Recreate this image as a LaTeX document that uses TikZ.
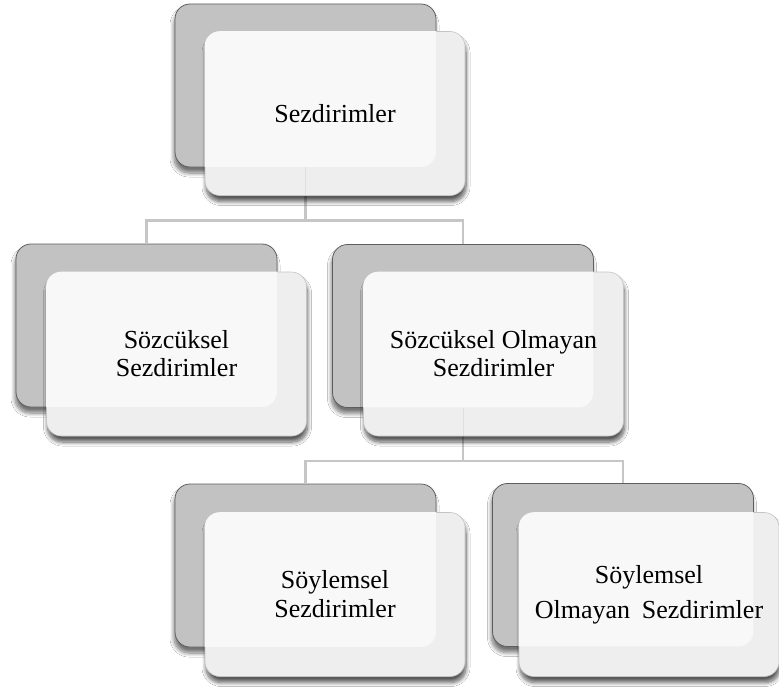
\documentclass[tikz,border=0pt]{standalone}
\usepackage{fontspec}
\setmainfont{Liberation Serif}
\usetikzlibrary{shadows.blur}
\definecolor{backfill}{HTML}{C2C2C2}
\definecolor{backline}{HTML}{5E5E5E}
\definecolor{frontfill}{HTML}{EEEEEE}
\definecolor{frontinner}{HTML}{F8F8F8}
\definecolor{frontline}{HTML}{C4C4C4}
\definecolor{connline}{HTML}{C6C6C6}
\tikzset{
  backbox/.style={rectangle, rounded corners=15pt, minimum width=261pt, minimum height=163pt,
    fill=backfill, draw=backline, line width=0.8pt,
    blur shadow={shadow xshift=-1pt, shadow yshift=-6pt, shadow blur radius=4pt, shadow blur steps=8, shadow opacity=55}},
  frontbox/.style={rectangle, rounded corners=15pt, minimum width=260pt, minimum height=164pt,
    fill=frontfill, draw=frontline, line width=0.6pt, align=center,
    font=\fontsize{26}{28}\selectfont, text=black!90,
    blur shadow={shadow xshift=1pt, shadow yshift=-6pt, shadow blur radius=4pt, shadow blur steps=8, shadow opacity=65}},
  conn/.style={draw=connline, line width=2.2pt},
  trace/.style={draw=connline!70, line width=1pt, opacity=0.6},
}
\newcommand{\innerglow}[2]{%
  \begin{scope}
    \clip[rounded corners=15pt] (#1.south west) rectangle (#1.north east);
    \fill[frontinner, rounded corners=15pt] ([xshift=0.5pt,yshift=0.5pt]#2.south west) rectangle ([xshift=-0.5pt,yshift=-0.5pt]#2.north east);
  \end{scope}}
\begin{document}
\begin{tikzpicture}[x=1pt,y=-1pt]
\fill[white] (0,0) rectangle (779,693);
\useasboundingbox (0,0) rectangle (779,693);
% back boxes
\node[backbox] (b1) at (305.5,85.5) {};
\node[backbox] (b2) at (146.5,325.5) {};
\node[backbox] (b3) at (463,326) {};
\node[backbox] (b4) at (305.5,565.5) {};
\node[backbox] (b5) at (623,565) {};
% connectors
\draw[conn] (b1.south) -- ++(0,53) coordinate (j1);
\draw[conn] (j1) -| (b2.north);
\draw[conn] (j1) -| (b3.north);
\draw[conn] (b3.south) -- ++(0,53) coordinate (j2);
\draw[conn] (j2) -| (b4.north);
\draw[conn] (j2) -| (b5.north);
% front boxes
\node[frontbox] (f1) at (335,113.5) {};
\innerglow{f1}{b1}
\node[align=center, font=\fontsize{26}{28}\selectfont] (t1) at (f1.center) {Sezdirimler};
\node[frontbox] (f2) at (176.5,354) {};
\innerglow{f2}{b2}
\node[align=center, font=\fontsize{26}{28}\selectfont] (t2) at (f2.center) {Sözcüksel\\Sezdirimler};
\node[frontbox] (f3) at (493.5,354) {};
\innerglow{f3}{b3}
\node[align=center, font=\fontsize{26}{28}\selectfont] (t3) at (f3.center) {Sözcüksel Olmayan\\Sezdirimler};
\node[frontbox] (f4) at (335,594.5) {};
\innerglow{f4}{b4}
\node[align=center, font=\fontsize{26}{29}\selectfont] (t4) at (f4.center) {Söylemsel\\Sezdirimler};
\node[frontbox] (f5) at (649,594.5) {};
\innerglow{f5}{b5}
\node[align=center, font=\fontsize{26}{35}\selectfont] (t5) at (f5.center) {Söylemsel\\Olmayan\hspace{0.45em}Sezdirimler};
% faint connector traces seen through front boxes
\draw[trace] (b1.south) -- (b1.south |- f1.south);
\draw[trace] (b3.south) -- (b3.south |- f3.south);
\end{tikzpicture}
\end{document}
